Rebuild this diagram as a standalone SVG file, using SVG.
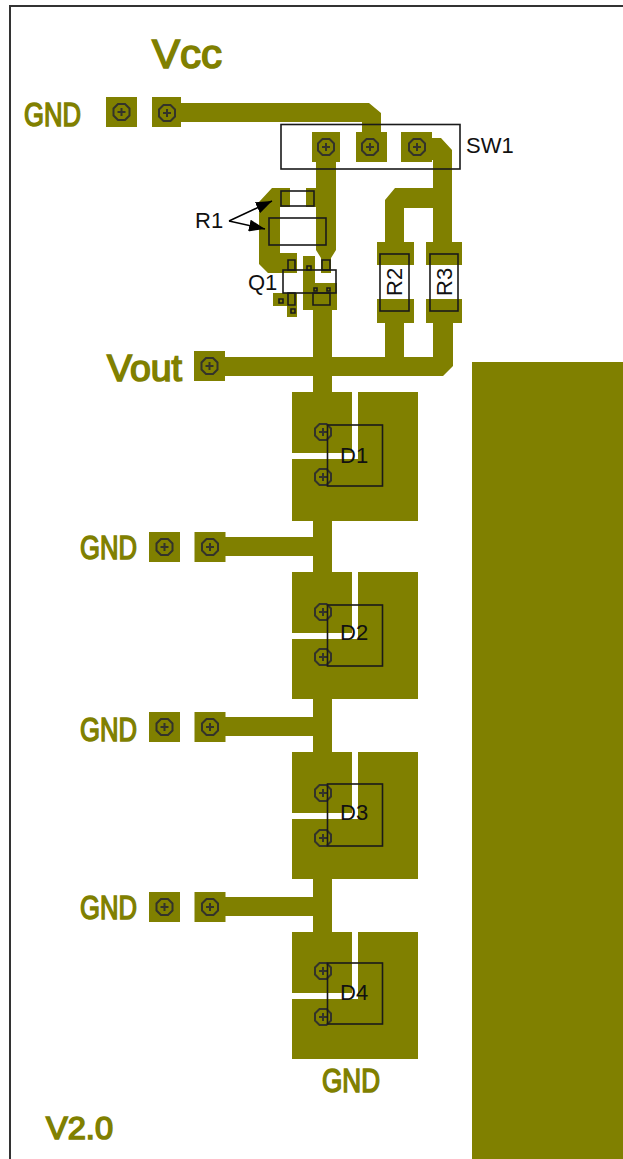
<svg xmlns="http://www.w3.org/2000/svg" xmlns:xlink="http://www.w3.org/1999/xlink" width="623" height="1159" viewBox="0 0 623 1159">
<style>
.cu{fill:#808000}
.ln{fill:none;stroke:#1a1a1a;stroke-width:1.6}
.hole{fill:none;stroke:#33332a;stroke-width:2}
.sig{font-family:"Liberation Sans",Arial,sans-serif;font-size:22px;fill:#111}
.pcb{font-family:"Liberation Sans",Arial,sans-serif;fill:#808000;stroke:#808000;stroke-width:1.6}
</style>
<defs>
<g id="h"><polygon class="hole" points="-3.500,-8 3.500,-8 8,-3.500 8,3.500 3.500,8 -3.500,8 -8,3.500 -8,-3.500"/><path class="hole" d="M-4,0H4M0,-4V4"/></g>
<marker id="a" viewBox="0 0 16 12" refX="16" refY="6" markerWidth="16" markerHeight="12" markerUnits="userSpaceOnUse" orient="auto"><path d="M0,0L16,6L0,12Z" fill="#000"/></marker>
<g id="pad"><rect class="cu" x="-15.500" y="-15" width="31" height="30"/><use xlink:href="#h"/></g>
</defs>
<rect width="623" height="1159" fill="#fff"/>
<path d="M10,1159V6H623" fill="none" stroke="#333" stroke-width="2"/>
<rect id="ground-plane" class="cu" x="472" y="362" width="151" height="797"/>
<g id="connectors">
<path class="cu" d="M180,103H369L381,113V135H362V122H180Z"/>
<path class="cu" d="M432,138H441L452,150V243H433V208H404V243H385V200L395,188H433V160H432Z"/>
<path class="cu" d="M385,323H404V357H433V323H453V366L443,376H225V357H385Z"/>
<rect class="cu" x="313" y="305" width="19" height="87"/>
<path class="cu" d="M316,162H336V250L331,258V273H321V258L316,250Z"/>
<path class="cu" d="M272,188H290V207H280V253H297V273H268L259,264V202Z"/>
<path class="cu" d="M306,188H318V207H306Z"/>
<path class="cu" d="M303,256H315V310H303Z"/>
<path class="cu" d="M225,537H313V521H332V572H313V556H225Z"/>
<path class="cu" d="M225,717H313V699H332V752H313V736H225Z"/>
<path class="cu" d="M225,897H313V879H332V932H313V916H225Z"/>
</g>
<g id="Vcc"><text class="pcb" x="152" y="68" font-size="40" textLength="70" lengthAdjust="spacingAndGlyphs">Vcc</text></g>
<g id="GND-top"><text class="pcb" x="24" y="126" font-size="34" textLength="57" lengthAdjust="spacingAndGlyphs">GND</text><use xlink:href="#pad" x="121.500" y="112"/><path class="cu" d="M152,97H181V127H152Z"/><use xlink:href="#h" x="167" y="113"/></g>
<g id="SW1">
<rect class="cu" x="312" y="132" width="28" height="30"/><rect class="cu" x="356" y="132" width="31" height="30"/><rect class="cu" x="401" y="132" width="31" height="30"/>
<use xlink:href="#h" x="326" y="147"/><use xlink:href="#h" x="370" y="147"/><use xlink:href="#h" x="417" y="147"/>
<rect class="ln" x="281" y="124.500" width="179" height="44.500"/>
<text class="sig" x="466" y="153">SW1</text></g>
<g id="R1">
<rect class="ln" x="281" y="191" width="33" height="15"/>
<rect class="ln" x="269" y="218" width="57" height="27"/>
<text class="sig" x="195" y="228">R1</text>
<path d="M229,221L272,201" fill="none" stroke="#000" stroke-width="1.500" marker-end="url(#a)"/>
<path d="M229,221L265,229" fill="none" stroke="#000" stroke-width="1.500" marker-end="url(#a)"/></g>
<g id="Q1">
<path class="cu" d="M303,283H337V310H303Z"/>
<path class="cu" d="M273,293H288V306H273ZM287,293H297V317H287Z"/>
<rect x="283" y="273" width="20" height="20" fill="#fff"/>
<rect x="315" y="273" width="21" height="10" fill="#fff"/>
<path class="ln" d="M288,260h7v10h-7ZM322,260h8v10h-8ZM288,293h7v12h-7ZM313,293h17v12h-17ZM279,299h4v4h-4ZM291,309h4v4h-4ZM307,266h4v4h-4ZM314,288h3v3h-3ZM327,288h3v3h-3Z"/>
<rect class="ln" x="283" y="270" width="53" height="23"/>
<text class="sig" x="248" y="290">Q1</text></g>
<g id="R2"><rect class="cu" x="377" y="242" width="37" height="23"/><rect class="cu" x="377" y="299" width="37" height="24"/><rect x="380" y="254" width="29" height="57" fill="none" stroke="#1a1a1a" stroke-width="1.600"/><text class="sig" transform="translate(402,296) rotate(-90)">R2</text></g>
<g id="R3"><rect class="cu" x="426" y="242" width="36" height="23"/><rect class="cu" x="426" y="299" width="36" height="24"/><rect x="430" y="254" width="28" height="57" fill="none" stroke="#1a1a1a" stroke-width="1.600"/><text class="sig" transform="translate(452,296) rotate(-90)">R3</text></g>
<g id="Vout"><text class="pcb" x="107" y="381" font-size="37" textLength="75" lengthAdjust="spacingAndGlyphs">Vout</text><use xlink:href="#pad" x="209.500" y="366"/></g>
<g id="D1"><path class="cu" d="M292,392H352V453H292ZM358,392H418V521H292V459H358Z"/><path d="M352,453H358V459H352Z" fill="#fff"/><use xlink:href="#h" x="323" y="432"/><use xlink:href="#h" x="323" y="477"/><rect class="ln" x="327.500" y="425" width="55" height="61"/><text class="sig" x="340" y="463">D1</text></g>
<g id="D2"><path class="cu" d="M292,572H352V633H292ZM358,572H418V699H292V639H358Z"/><path d="M352,633H358V639H352Z" fill="#fff"/><use xlink:href="#h" x="323" y="612"/><use xlink:href="#h" x="323" y="657"/><rect class="ln" x="327.500" y="605" width="55" height="61"/><text class="sig" x="340" y="640">D2</text></g>
<g id="D3"><path class="cu" d="M292,752H352V813H292ZM358,752H418V879H292V819H358Z"/><path d="M352,813H358V819H352Z" fill="#fff"/><use xlink:href="#h" x="323" y="793"/><use xlink:href="#h" x="323" y="838"/><rect class="ln" x="327.500" y="784" width="55" height="62"/><text class="sig" x="340" y="820">D3</text></g>
<g id="D4"><path class="cu" d="M292,932H352V993H292ZM358,932H418V1059H292V999H358Z"/><path d="M352,993H358V999H352Z" fill="#fff"/><use xlink:href="#h" x="323" y="971"/><use xlink:href="#h" x="323" y="1017"/><rect class="ln" x="327.500" y="963" width="55" height="61"/><text class="sig" x="340" y="1000">D4</text></g>
<g id="GND1"><text class="pcb" x="80" y="559" font-size="34" textLength="57" lengthAdjust="spacingAndGlyphs">GND</text><use xlink:href="#pad" x="164.500" y="547"/><use xlink:href="#pad" x="210" y="547"/></g>
<g id="GND2"><text class="pcb" x="80" y="741" font-size="34" textLength="57" lengthAdjust="spacingAndGlyphs">GND</text><use xlink:href="#pad" x="164.500" y="727"/><use xlink:href="#pad" x="210" y="727"/></g>
<g id="GND3"><text class="pcb" x="80" y="919" font-size="34" textLength="57" lengthAdjust="spacingAndGlyphs">GND</text><use xlink:href="#pad" x="164.500" y="907"/><use xlink:href="#pad" x="210" y="907"/></g>
<g id="GND4"><text class="pcb" x="322" y="1092" font-size="34" textLength="58" lengthAdjust="spacingAndGlyphs">GND</text></g>
<g id="version"><text class="pcb" x="46" y="1139" font-size="32" textLength="67" lengthAdjust="spacingAndGlyphs">V2.0</text></g>
</svg>
